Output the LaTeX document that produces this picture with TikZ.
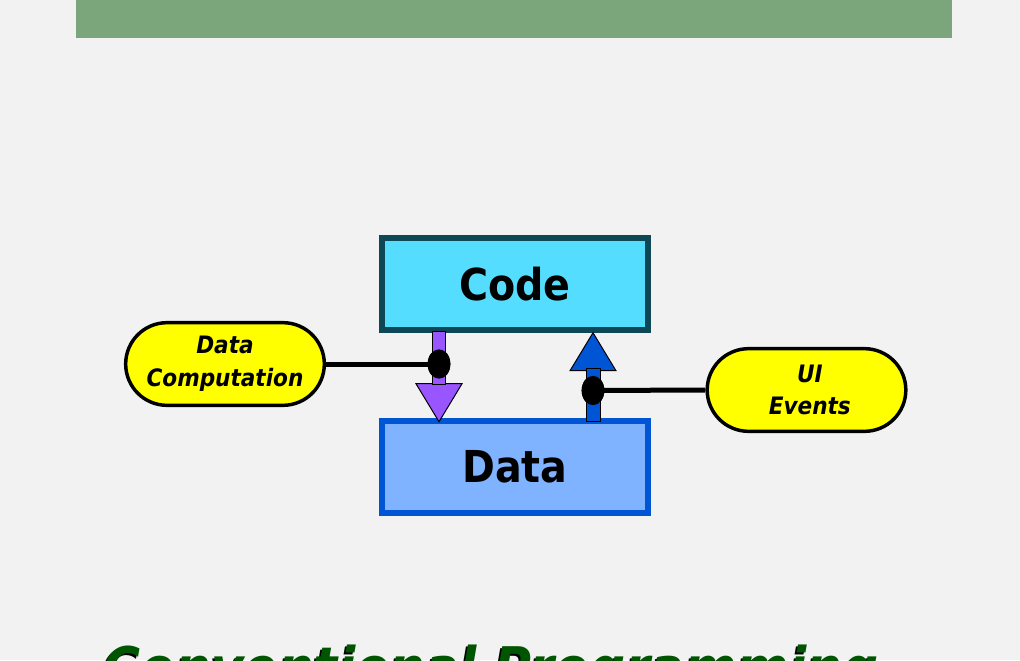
\documentclass[tikz,border=0pt]{standalone}
\usepackage{fontspec}
\setmainfont{DejaVu Sans Condensed}
\usetikzlibrary{positioning,shapes.misc,shapes.geometric,calc}
\definecolor{pagebg}{HTML}{F2F2F2}
\definecolor{topbar}{HTML}{7BA67B}
\definecolor{codefill}{HTML}{55DDFF}
\definecolor{codeline}{HTML}{0E4755}
\definecolor{datafill}{HTML}{80B3FF}
\definecolor{dataline}{HTML}{0055D4}
\definecolor{pushpurple}{HTML}{9955FF}
\definecolor{pullblue}{HTML}{0055D4}
\definecolor{pillyellow}{HTML}{FFFF00}
\definecolor{titlegreen}{HTML}{005500}

\begin{document}
\begin{tikzpicture}[
    x=0.75pt, y=-0.75pt,
    box/.style={draw, minimum width=199.5pt, minimum height=69pt, font=\bfseries\fontsize{33}{38}\selectfont},
    pill/.style={draw, line width=2.6pt, fill=pillyellow, rounded rectangle, minimum width=149pt, minimum height=62pt, inner sep=0pt, align=center},
    dot/.style={ellipse, fill=black, minimum width=17pt, minimum height=22pt, inner sep=0pt},
    link/.style={line width=3.75pt},
    blockarr/.style={draw=black, line width=0.75pt},
    title/.style={font=\bfseries\itshape\fontsize{42}{46}\selectfont, anchor=base}
]
\fill[pagebg] (0,0) rectangle (1020,660);
\useasboundingbox (0,0) rectangle (1020,660);
\fill[topbar] (76,0) rectangle (952,38);

\node[box, fill=codefill, draw=codeline, line width=4.1pt] (code) at (515,284) {Code};
\node[box, fill=datafill, draw=dataline, line width=4.9pt] (data) at (515,467) {Data};

\node[dot] (d1) at (439,364) {};
\node[dot] (d2) at (593,390.5) {};

\filldraw[blockarr, fill=pushpurple] ($(d1 |- code.south)+(-23,51)$) -- ($(d1 |- data.north)+(0,4)$) -- ($(d1 |- code.south)+(23,51)$) -- cycle;
\filldraw[blockarr, fill=pushpurple] ($(d1 |- code.south)+(-6.5,-1)$) rectangle ($(d1 |- code.south)+(6.5,52)$);

\filldraw[blockarr, fill=pullblue] ($(d2 |- code.south)+(-23,38)$) -- (d2 |- code.south) -- ($(d2 |- code.south)+(23,38)$) -- cycle;
\filldraw[blockarr, fill=pullblue] ($(d2 |- data.north)+(-7,4)$) rectangle ($(d2 |- data.north)+(7,-49)$);

\node[pill, font=\bfseries\itshape\fontsize{18}{24.5}\selectfont] (calc) at (225,364) {Data\\Computation};
\node[pill, font=\bfseries\itshape\fontsize{18}{24.5}\selectfont] (ui) at (806.5,390) {\hspace*{5pt}UI\\\hspace*{5pt}Events};

\draw[link] (calc.east) -- (d1.center);
\draw[link] (d2.center) -- (ui.west);
\node[dot] at (d1) {};
\node[dot] at (d2) {};

\node[title, text=black] (shadow) at (489,689) {Conventional Programming};
\node[title, text=titlegreen] (heading) at (491,687) {Conventional Programming};
\end{tikzpicture}
\end{document}
